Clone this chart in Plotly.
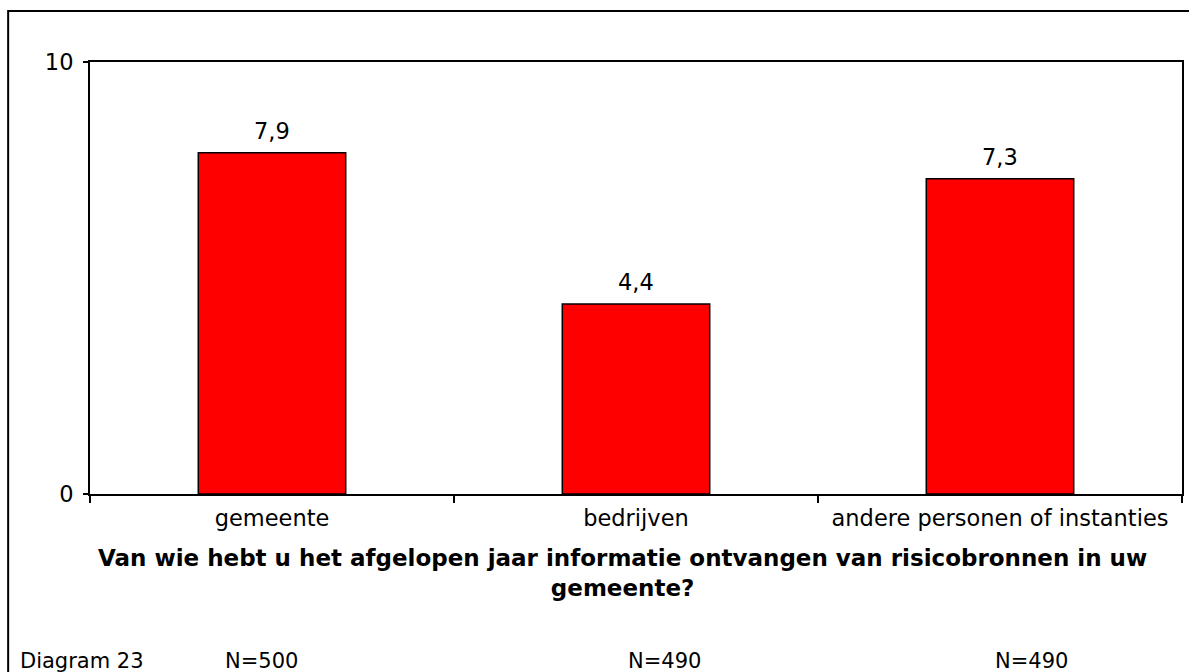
import plotly.graph_objects as go

categories = ["gemeente", "bedrijven", "andere personen of instanties"]
values = [7.9, 4.4, 7.3]
n_labels = ["N=500", "N=490", "N=490"]
axis_title = "Van wie hebt u het afgelopen jaar informatie ontvangen van risicobronnen in uw<br>gemeente?"
footer = "Diagram 23"

FONT = "DejaVu Sans, Verdana, sans-serif"
FS = 21
FT = 22.5

W, H = 1189, 672
PL, PT, PR, PB = 90, 62, 1184, 494  # plot area in page pixels
PW, PH = PR - PL, PB - PT

def px(x):
    return (x - PL) / PW

def py(y):
    return (PB - y) / PH

fig = go.Figure()
fig.add_trace(go.Bar(
    x=categories, y=values, width=0.405,
    marker=dict(color="#ff0000", line=dict(color="black", width=1.5)),
    hoverinfo="skip",
))

annotations = []
for c, v in zip(categories, values):
    annotations.append(dict(x=c, y=v, xref="x", yref="y", text=f"{v:.1f}".replace(".", ","),
                            showarrow=False, yanchor="middle", yshift=22,
                            font=dict(family=FONT, size=FT, color="black")))

annotations.append(dict(x=px(623), y=py(573), xref="paper", yref="paper", text=axis_title,
                        showarrow=False, xanchor="center", yanchor="middle", align="center",
                        font=dict(family=FONT, size=23, color="black", weight="bold")))
annotations.append(dict(x=px(18), y=py(661), xref="paper", yref="paper", text=footer,
                        showarrow=False, xanchor="left", yanchor="middle",
                        font=dict(family=FONT, size=FS, color="black")))
n_x = [262, 666, 1033]
for xp, t in zip(n_x, n_labels):
    annotations.append(dict(x=px(xp), y=py(661), xref="paper", yref="paper", text=t,
                            showarrow=False, xanchor="center", yanchor="middle",
                            font=dict(family=FONT, size=FS, color="black")))

fig.update_layout(
    width=W, height=H,
    margin=dict(l=PL, r=W - PR, t=PT, b=H - PB, pad=0),
    paper_bgcolor="white", plot_bgcolor="white",
    showlegend=False,
    separators=",.",
    font=dict(family=FONT, size=FT, color="black"),
    annotations=annotations,
    shapes=[dict(type="rect", xref="paper", yref="paper",
                 x0=px(8), x1=px(1200), y0=py(700), y1=py(11),
                 line=dict(color="black", width=2), fillcolor="rgba(0,0,0,0)", layer="below")],
)
fig.update_xaxes(showline=True, linecolor="black", linewidth=2, mirror=True,
                 ticks="outside", tickson="boundaries", ticklen=7, tickcolor="black", tickwidth=1.5,
                 ticklabelstandoff=3,
                 showgrid=False, tickfont=dict(family=FONT, size=FT, color="black"))
fig.update_yaxes(range=[0, 10], tickvals=[0, 10], showline=True, linecolor="black", linewidth=2,
                 mirror=True, ticks="outside", ticklen=5, tickcolor="black", tickwidth=1.5,
                 ticklabelstandoff=5,
                 showgrid=False, zeroline=False, tickfont=dict(family=FONT, size=FT, color="black"))

fig.write_html("out.html", config={"displayModeBar": False},
               post_script="document.body.style.margin='0';document.documentElement.style.overflow='hidden';")
